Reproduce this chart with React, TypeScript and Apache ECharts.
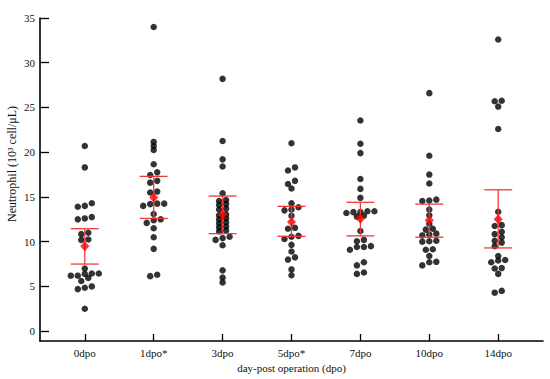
import React, { useEffect, useRef } from "react";
import * as echarts from "echarts";

const categories = ["0dpo", "1dpo*", "3dpo", "5dpo*", "7dpo", "10dpo", "14dpo"];
const yTicks = [0, 5, 10, 15, 20, 25, 30, 35];

const d0 = [20.7, 18.3, 14.3, 14.0, 13.9, 12.75, 12.6, 12.5, 11.0, 10.85, 10.25, 10.2, 7.0, 6.45, 6.45, 6.4, 6.2, 6.2, 5.95, 5.6, 5.0, 4.85, 4.7, 2.5];
const d1 = [34.0, 21.15, 20.7, 20.25, 18.65, 17.75, 17.45, 16.8, 16.6, 15.6, 15.5, 14.25, 14.25, 14.2, 14.0, 13.1, 12.5, 12.4, 12.1, 11.5, 10.5, 9.2, 6.3, 6.15];
const d2 = [28.2, 21.25, 19.2, 18.4, 15.4, 14.65, 14.55, 14.2, 14.1, 13.7, 13.6, 13.05, 12.95, 12.6, 12.5, 12.15, 12.05, 11.7, 11.6, 11.25, 11.15, 10.55, 10.4, 10.2, 9.6, 6.8, 6.0, 5.45];
const d3 = [21.0, 18.3, 17.95, 16.8, 16.45, 15.95, 14.3, 13.85, 13.6, 13.5, 12.9, 11.55, 11.45, 10.65, 10.55, 10.3, 9.65, 8.9, 8.25, 8.0, 6.9, 6.25];
const d4 = [23.55, 20.95, 19.9, 17.0, 15.9, 14.9, 13.4, 13.4, 13.3, 13.3, 13.2, 12.9, 12.8, 11.2, 10.2, 10.05, 9.5, 9.4, 9.4, 9.1, 7.7, 7.35, 6.55, 6.4];
const d5 = [26.6, 19.6, 17.5, 16.5, 14.7, 14.6, 14.55, 13.6, 12.95, 12.0, 11.45, 11.35, 10.9, 10.8, 10.7, 10.1, 10.05, 10.0, 9.15, 9.1, 8.4, 7.75, 7.7, 7.35];
const d6 = [32.6, 25.75, 25.7, 25.1, 22.6, 13.35, 11.85, 11.75, 11.1, 10.85, 10.5, 10.1, 9.9, 9.5, 8.4, 7.95, 7.9, 7.7, 7.05, 7.0, 6.4, 4.5, 4.3];
const groups = [d0, d1, d2, d3, d4, d5, d6];

const means = [9.5, 14.95, 13.0, 12.2, 12.55, 12.4, 12.5];
const lowers = [7.5, 12.6, 10.9, 10.6, 10.65, 10.5, 9.3];
const uppers = [11.45, 17.3, 15.1, 13.95, 14.4, 14.2, 15.8];

const W = 550;
const H = 379;
const GRID_LEFT = 40;
const GRID_RIGHT = 7;
const GRID_TOP = 18;
const GRID_BOTTOM = 38;
const X_MIN = -0.65;
const X_MAX = 6.65;
const Y_MIN = -1.1;
const Y_MAX = 35;
const ROW_TOL = 0.42;
const DOT_GAP = 7;
const FONT = "'Liberation Serif', 'Times New Roman', serif";

function swarm(values: number[], xi: number, pxPerX: number): number[][] {
  const sorted = [...values].sort((a, b) => b - a);
  const rows: number[][] = [];
  let cur: number[] = [];
  let start = Infinity;
  for (const v of sorted) {
    if (cur.length && start - v < ROW_TOL) cur.push(v);
    else {
      if (cur.length) rows.push(cur);
      cur = [v];
      start = v;
    }
  }
  if (cur.length) rows.push(cur);
  const out: number[][] = [];
  rows.forEach((row) => {
    const r = [...row].reverse();
    const n = r.length;
    r.forEach((v, i) => out.push([xi + ((i - (n - 1) / 2) * DOT_GAP) / pxPerX, v]));
  });
  return out;
}

export default function App() {
  const ref = useRef<HTMLDivElement>(null);
  useEffect(() => {
    if (!ref.current) return;
    const chart = echarts.init(ref.current, undefined, { renderer: "svg" });
    const pxPerX = (W - GRID_LEFT - GRID_RIGHT) / (X_MAX - X_MIN);
    const points: number[][] = [];
    groups.forEach((g, i) => swarm(g, i, pxPerX).forEach((p) => points.push(p)));
    const errData = categories.map((_, i) => [i, means[i], lowers[i], uppers[i]]);
    const meanData = categories.map((_, i) => [i, means[i]]);
    const xIdx = categories.map((_, i) => i);

    chart.setOption({
      animation: false,
      grid: { left: GRID_LEFT, right: GRID_RIGHT, top: GRID_TOP, bottom: GRID_BOTTOM },
      xAxis: {
        type: "value",
        min: X_MIN,
        max: X_MAX,
        name: "day-post operation (dpo)",
        nameLocation: "middle",
        nameGap: 20,
        nameTextStyle: { fontFamily: FONT, fontSize: 11, color: "#111" },
        axisLine: { show: true, onZero: false, lineStyle: { color: "#000", width: 1.6 } },
        axisTick: { show: true, inside: true, length: 7, customValues: xIdx, lineStyle: { color: "#000", width: 1.3 } },
        axisLabel: {
          customValues: xIdx,
          margin: 6,
          fontFamily: FONT,
          fontSize: 11,
          color: "#111",
          formatter: (v: number) => categories[Math.round(v)] ?? "",
        },
        splitLine: { show: false },
      },
      yAxis: {
        type: "value",
        min: Y_MIN,
        max: Y_MAX,
        axisLine: { show: true, onZero: false, lineStyle: { color: "#000", width: 1.6 } },
        axisTick: { show: true, inside: true, length: 9, customValues: yTicks, lineStyle: { color: "#000", width: 1.3 } },
        axisLabel: { customValues: yTicks, margin: 5, fontFamily: FONT, fontSize: 11, color: "#111" },
        splitLine: { show: false },
      },
      graphic: [
        {
          type: "text",
          x: 12,
          y: 164,
          rotation: Math.PI / 2,
          style: {
            text: "Neutrophil (10³ cell/μL)",
            fontFamily: FONT,
            fontSize: 12,
            fill: "#111",
            align: "center",
            verticalAlign: "middle",
          },
        },
      ],
      series: [
        {
          type: "scatter",
          data: points,
          symbol: "circle",
          symbolSize: 6.5,
          itemStyle: { color: "#000" },
          z: 2,
        },
        {
          type: "custom",
          data: errData,
          z: 3,
          renderItem: (params: any, api: any) => {
            const x = api.value(0);
            const lo = api.value(2);
            const hi = api.value(3);
            const pHi = api.coord([x, hi]);
            const pLo = api.coord([x, lo]);
            const half = 14;
            const st = { stroke: "#f03a3a", lineWidth: 1.3 };
            return {
              type: "group",
              children: [
                { type: "line", shape: { x1: pHi[0], y1: pHi[1], x2: pLo[0], y2: pLo[1] }, style: st },
                { type: "line", shape: { x1: pHi[0] - half, y1: pHi[1], x2: pHi[0] + half, y2: pHi[1] }, style: st },
                { type: "line", shape: { x1: pLo[0] - half, y1: pLo[1], x2: pLo[0] + half, y2: pLo[1] }, style: st },
              ],
            };
          },
        },
        {
          type: "scatter",
          data: meanData,
          symbol: "diamond",
          symbolSize: [9, 10],
          itemStyle: { color: "#ff0000" },
          z: 4,
        },
      ],
    });
    return () => chart.dispose();
  }, []);
  return <div ref={ref} style={{ position: "fixed", left: 0, top: 0, width: W, height: H, background: "#fff" }} />;
}
